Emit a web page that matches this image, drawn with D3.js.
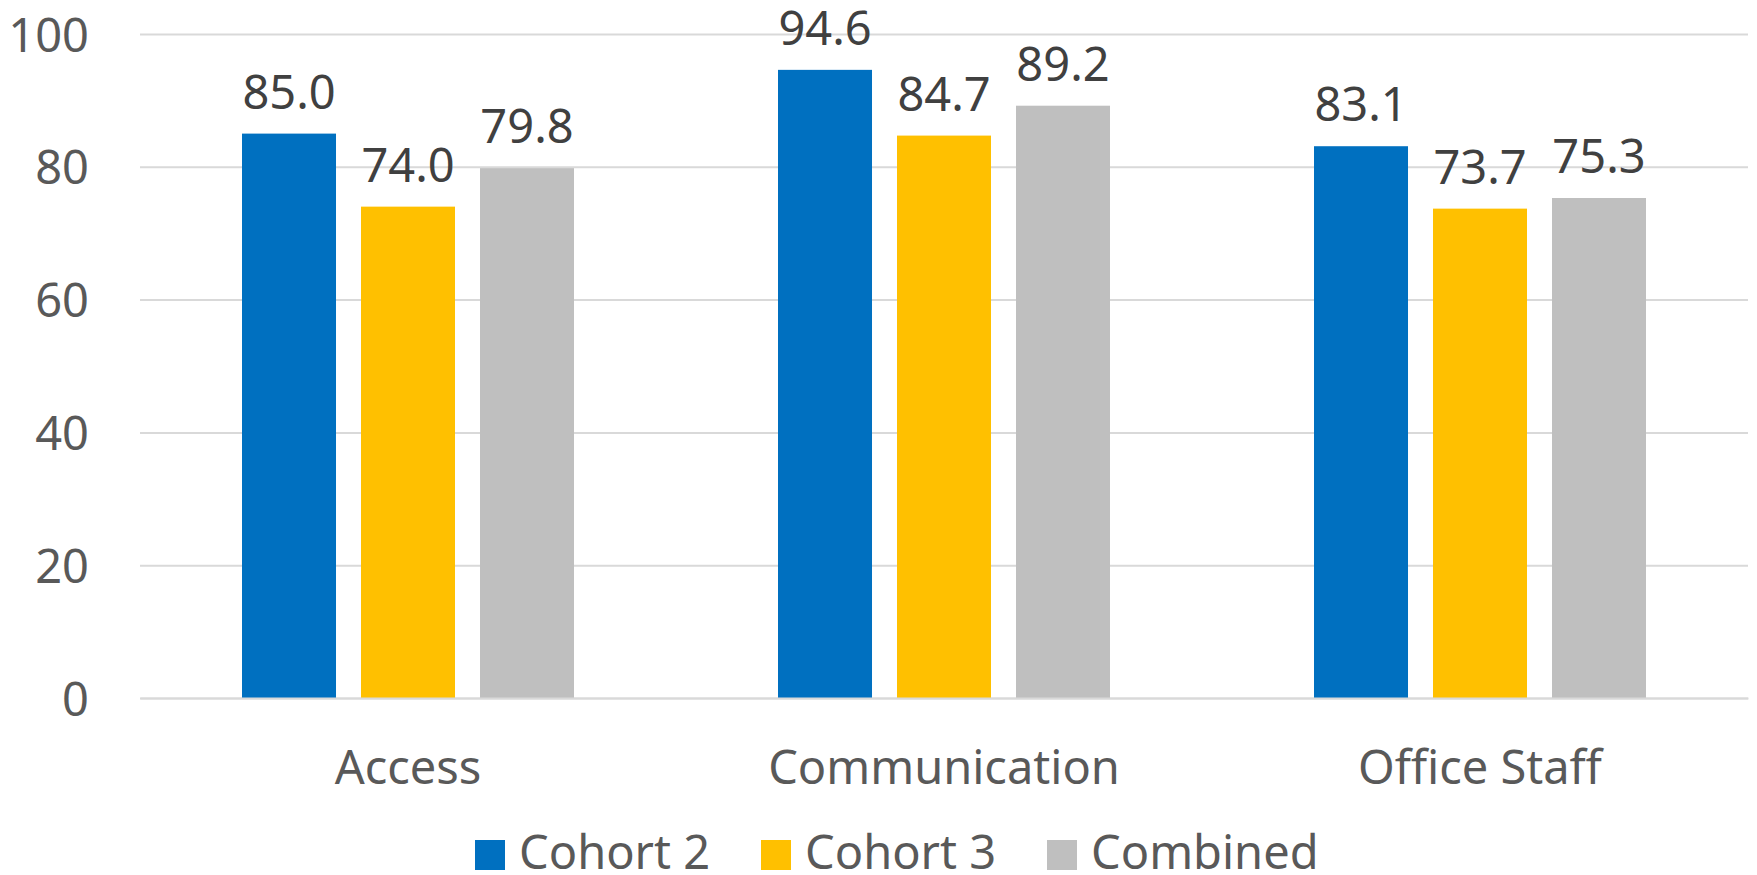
<!DOCTYPE html>
<html>
<head>
<meta charset="utf-8">
<script src="https://cdn.jsdelivr.net/npm/d3@7"></script>
<style>
  html, body { margin: 0; padding: 0; background: #fff; }
  svg { display: block; font-family: "Noto Sans", "Open Sans", sans-serif; }
</style>
</head>
<body>
<svg id="chart" width="1757" height="875"></svg>
<script>
// Survey scores by category for each cohort
const categories = ["Access", "Communication", "Office Staff"];
const seriesNames = ["Cohort 2", "Cohort 3", "Combined"];
const cohort2 = [85.0, 94.6, 83.1];
const cohort3 = [74.0, 84.7, 73.7];
const combined = [79.8, 89.2, 75.3];
const yTicks = [0, 20, 40, 60, 80, 100];
const colors = ["#0070C0", "#FFC000", "#BFBFBF"];

const seriesValues = [cohort2, cohort3, combined];

const svg = d3.select("#chart");
const plotLeft = 140, plotRight = 1748, plotTop = 34, plotBottom = 698;
const fontSize = 47;

const x0 = d3.scaleBand().domain(categories).range([plotLeft, plotRight]).padding(0);
const groupWidth = 332;
const x1 = d3.scaleBand().domain(seriesNames)
  .range([(x0.bandwidth() - groupWidth) / 2, (x0.bandwidth() + groupWidth) / 2])
  .paddingInner(0.21).paddingOuter(0);
const y = d3.scaleLinear().domain([0, 100]).range([plotBottom, plotTop]);

// Value axis with horizontal gridlines
const yAxis = svg.append("g")
  .attr("transform", `translate(${plotLeft},0)`)
  .call(d3.axisLeft(y).tickValues(yTicks).tickSize(-(plotRight - plotLeft)).tickFormat(d3.format("d")));
yAxis.select(".domain").remove();
yAxis.selectAll(".tick line").attr("stroke", "#D9D9D9").attr("stroke-width", 2);
yAxis.selectAll(".tick text")
  .attr("x", -51).attr("dy", null).attr("y", 17)
  .attr("text-anchor", "end")
  .attr("fill", "#595959")
  .attr("font-size", fontSize)
  .attr("font-family", "'Noto Sans', sans-serif");

// Bars
const rows = categories.map((c, i) => ({
  category: c,
  values: seriesNames.map((s, j) => ({ series: s, idx: j, value: seriesValues[j][i] }))
}));

const groups = svg.append("g").selectAll("g")
  .data(rows).join("g")
  .attr("transform", d => `translate(${x0(d.category)},0)`);

groups.selectAll("rect")
  .data(d => d.values).join("rect")
  .attr("x", d => x1(d.series))
  .attr("width", x1.bandwidth())
  .attr("y", d => y(d.value))
  .attr("height", d => y(0) - y(d.value))
  .attr("fill", d => colors[d.idx]);

// Data labels
groups.selectAll("text.label")
  .data(d => d.values).join("text")
  .attr("class", "label")
  .attr("x", d => x1(d.series) + x1.bandwidth() / 2)
  .attr("y", d => y(d.value) - 25)
  .attr("text-anchor", "middle")
  .attr("fill", "#404040")
  .attr("font-size", fontSize)
  .text(d => d.value.toFixed(1));

// Category axis
const xAxis = svg.append("g")
  .attr("transform", `translate(0,${plotBottom})`)
  .call(d3.axisBottom(x0).tickSize(0));
xAxis.select(".domain").attr("stroke", "#D9D9D9").attr("stroke-width", 2);
xAxis.selectAll(".tick text")
  .attr("y", 86).attr("dy", null)
  .attr("fill", "#595959")
  .attr("font-size", fontSize)
  .attr("font-family", "'Noto Sans', sans-serif");

// Legend
const legendX = d3.scaleBand().domain(seriesNames).range([475, 475 + 3 * 286]);
const legend = svg.append("g").selectAll("g")
  .data(seriesNames).join("g")
  .attr("transform", d => `translate(${legendX(d)},840)`);
legend.append("rect")
  .attr("width", 30).attr("height", 30)
  .attr("fill", (d, i) => colors[i]);
legend.append("text")
  .attr("x", 44).attr("y", 29)
  .attr("fill", "#595959")
  .attr("font-size", fontSize)
  .text(d => d);
</script>
</body>
</html>
